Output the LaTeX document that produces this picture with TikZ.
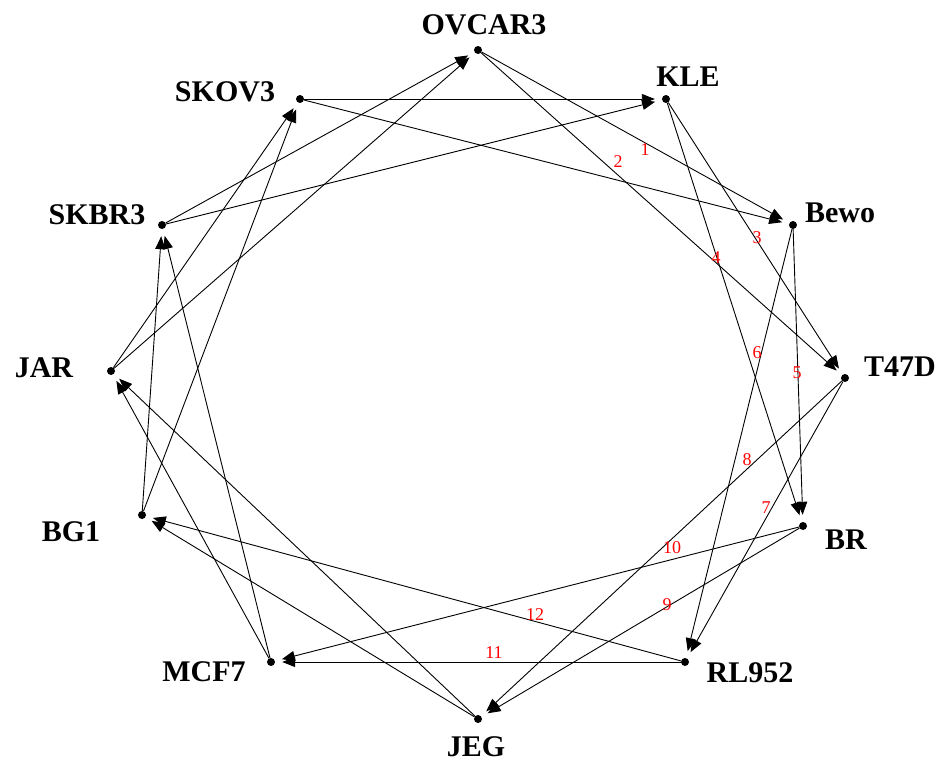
\documentclass[tikz,border=0pt]{standalone}
\usepackage{fontspec}
\setmainfont{Liberation Serif}
\usetikzlibrary{arrows.meta}
\tikzset{
  dot/.style={circle,fill=black,inner sep=0pt,minimum size=8pt},
  cell/.style={font=\fontsize{30}{30}\selectfont\bfseries,inner sep=0pt},
  num/.style={text=red,font=\fontsize{18}{18}\selectfont,inner sep=0pt},
  edge/.style={-{Triangle[length=13pt,width=10pt]},line width=0.9pt,shorten >=7pt,shorten <=0pt}
}
\begin{document}
\begin{tikzpicture}[x=1pt,y=-1pt]
\useasboundingbox (0,0) rectangle (942,763);
% dots
\node[dot] (ov) at (478,50) {};
\node[dot] (kle) at (666,99) {};
\node[dot] (bewo) at (793,225) {};
\node[dot] (t47d) at (845,378) {};
\node[dot] (br) at (803,526) {};
\node[dot] (rl) at (685,662) {};
\node[dot] (jeg) at (478,719) {};
\node[dot] (mcf) at (271,662) {};
\node[dot] (bg) at (142,515) {};
\node[dot] (jar) at (111,371) {};
\node[dot] (skbr) at (162,225) {};
\node[dot] (skov) at (300,99) {};
% names
\node[cell] (tov) at (484,25) {OVCAR3};
\node[cell] (tkle) at (688,77) {KLE};
\node[cell] (tbewo) at (840,213) {Bewo};
\node[cell] (tt47d) at (900,367) {T47D};
\node[cell] (tbr) at (846,540) {BR};
\node[cell] (trl) at (750,673) {RL952};
\node[cell] (tjeg) at (476,747) {JEG};
\node[cell] (tmcf) at (204,672) {MCF7};
\node[cell] (tbg) at (71,532) {BG1};
\node[cell] (tjar) at (44,368) {JAR};
\node[cell] (tskbr) at (97,215) {SKBR3};
\node[cell] (tskov) at (225,92) {SKOV3};
% edges
\draw[edge] (ov) -- (bewo);
\draw[edge] (ov) -- (t47d);
\draw[edge] (kle) -- (t47d);
\draw[edge] (kle) -- (br);
\draw[edge] (bewo) -- (br);
\draw[edge] (bewo) -- (rl);
\draw[edge] (t47d) -- (rl);
\draw[edge] (t47d) -- (jeg);
\draw[edge] (br) -- (jeg);
\draw[edge] (br) -- (mcf);
\draw[edge] (rl) -- (mcf);
\draw[edge] (rl) -- (bg);
\draw[edge] (jeg) -- (bg);
\draw[edge] (jeg) -- (jar);
\draw[edge] (mcf) -- (jar);
\draw[edge] (mcf) -- (skbr);
\draw[edge] (bg) -- (skbr);
\draw[edge] (bg) -- (skov);
\draw[edge] (jar) -- (skov);
\draw[edge] (jar) -- (ov);
\draw[edge] (skbr) -- (ov);
\draw[edge] (skbr) -- (kle);
\draw[edge] (skov) -- (kle);
\draw[edge] (skov) -- (bewo);
% edge numbers
\node[num] (l1) at (645,150) {1};
\node[num] (l2) at (618,162) {2};
\node[num] (l3) at (757,238) {3};
\node[num] (l4) at (716,258) {4};
\node[num] (l5) at (797,373) {5};
\node[num] (l6) at (757,353) {6};
\node[num] (l7) at (766,508) {7};
\node[num] (l8) at (747,460) {8};
\node[num] (l9) at (667,605) {9};
\node[num] (l10) at (672,548) {10};
\node[num] (l11) at (494,653) {11};
\node[num] (l12) at (535,615) {12};
\end{tikzpicture}
\end{document}
